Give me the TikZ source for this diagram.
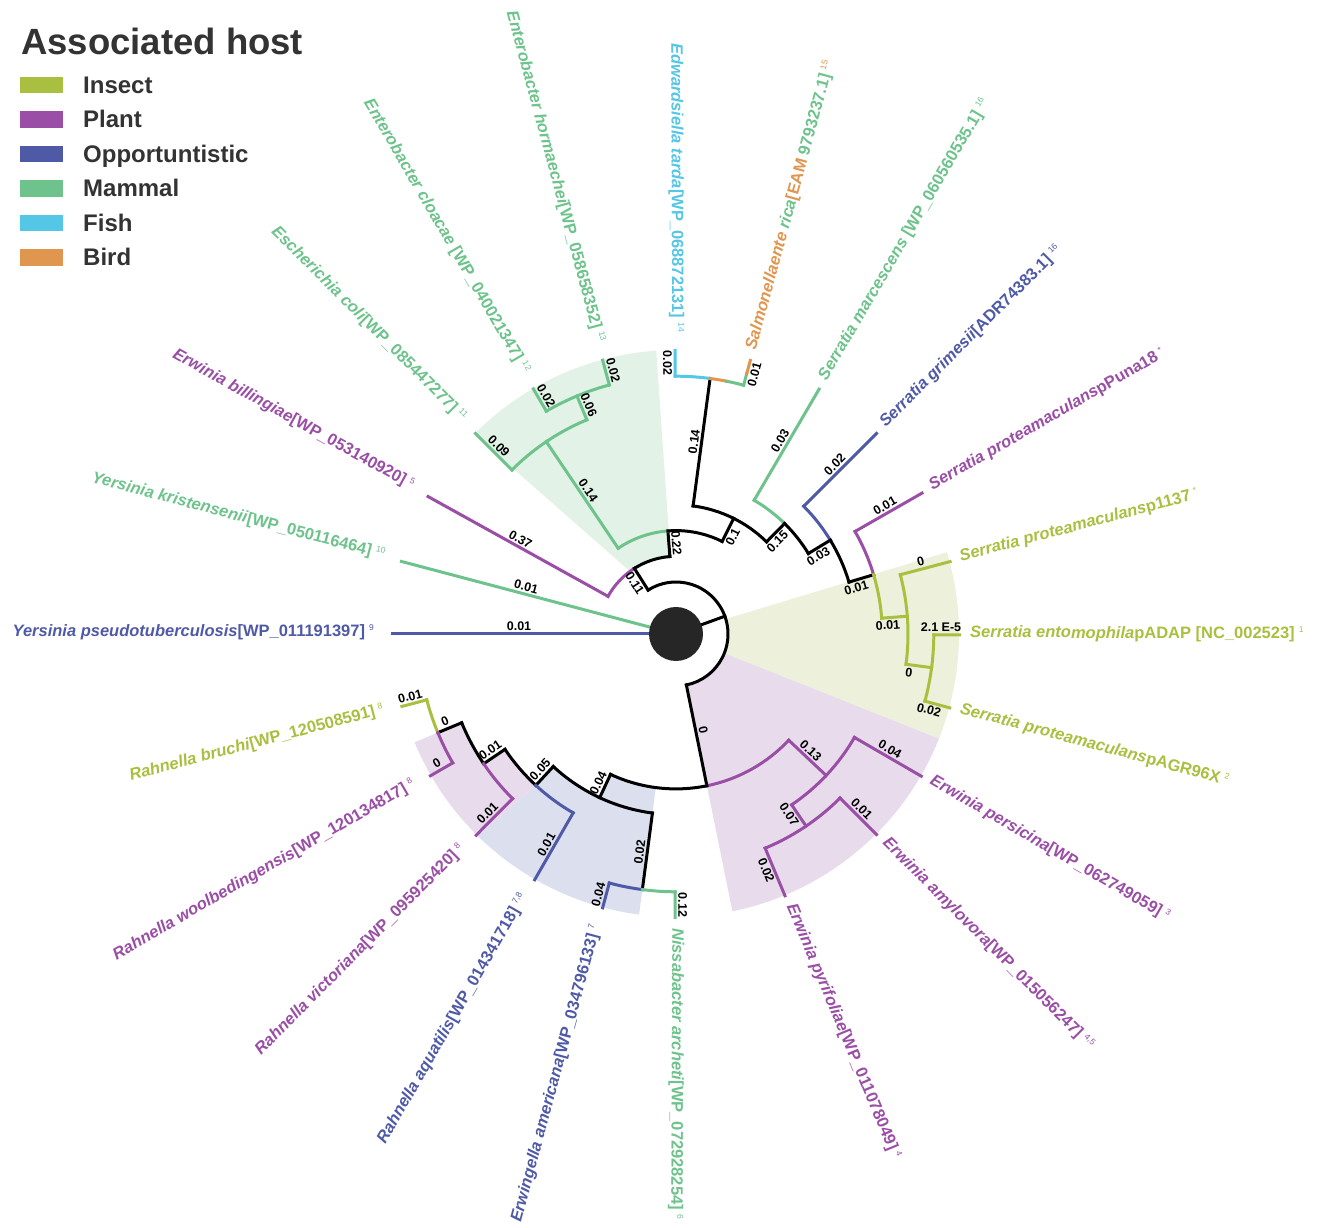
\documentclass[tikz,border=0pt]{standalone}
\usepackage{fontspec}
\setmainfont{Liberation Sans}
\definecolor{cI}{HTML}{A9BF3F}
\definecolor{cP}{HTML}{9A4EA6}
\definecolor{cO}{HTML}{4F5AA7}
\definecolor{cM}{HTML}{6DC38B}
\definecolor{cF}{HTML}{54C6E6}
\definecolor{cB}{HTML}{E0964F}
\definecolor{sM}{HTML}{E3F2E6}
\definecolor{sI}{HTML}{EDF0DB}
\definecolor{sP}{HTML}{E8DCEC}
\definecolor{sO}{HTML}{DCDFEE}
\definecolor{disc}{HTML}{262626}
\definecolor{legtxt}{HTML}{333333}
\newcommand\sups[1]{\hspace{4pt}\raisebox{6pt}{\fontsize{8.5}{8.5}\selectfont\mdseries #1}}
\newcounter{bn}
\newcommand\bl[5]{\stepcounter{bn}\node[blab,rotate=#3,anchor=#4] (bl\thebn) at (#1:#2pt) {#5};}
\newcommand\rb[4]{\draw[br,#1] (#2:#3pt) -- (#2:#4pt);}
\newcommand\ab[4]{\draw[br,#1] (#2:#4pt) arc[start angle=#2,end angle=#3,radius=#4pt];}
\newcommand\tipR[4]{\node[tiplab,text=#1,rotate=#2,anchor=mid west] (#3) at (#2:294pt) {#4};}
\newcommand\tipL[5]{\node[tiplab,text=#1,rotate=#3,anchor=mid east] (#4) at (#2:302pt) {#5};}
\begin{document}
\begin{tikzpicture}[x=1pt,y=1pt,
  br/.style={line width=3pt,line cap=rect},
  blab/.style={font=\fontsize{12.5}{12.5}\selectfont\bfseries,inner sep=2.9pt,text=black},
  tiplab/.style={font=\fontsize{16.5}{16.5}\selectfont\bfseries,inner sep=0pt},
  legtext/.style={anchor=base west,font=\fontsize{24}{24}\selectfont\bfseries,inner sep=0pt,text=legtxt}]
\useasboundingbox (0,0) rectangle (1322,1227);
\fill[white] (0,0) rectangle (1322,1227);
% ---------- legend ----------
\node[anchor=base west,font=\fontsize{36.5}{36.5}\selectfont\bfseries,inner sep=0pt,text=legtxt] (title) at (21,1172) {Associated host};
\fill[cI] (20,1133.5) rectangle (63,1150.2); \node[legtext] (lgI) at (83,1133.5) {Insect};
\fill[cP] (20,1099) rectangle (63,1115.7);   \node[legtext] (lgP) at (83,1099) {Plant};
\fill[cO] (20,1064.5) rectangle (63,1081.2); \node[legtext] (lgO) at (83,1064.5) {Opportuntistic};
\fill[cM] (20,1030) rectangle (63,1046.7);   \node[legtext] (lgM) at (83,1030) {Mammal};
\fill[cF] (20,995.5) rectangle (63,1012.2);  \node[legtext] (lgF) at (83,995.5) {Fish};
\fill[cB] (20,961) rectangle (63,977.7);     \node[legtext] (lgB) at (83,961) {Bird};
\begin{scope}[shift={(676,593)}]
% ---------- shaded clades ----------
\fill[sM] (94:77.7pt) -- (94:284pt) arc[start angle=94,end angle=135.3,radius=284pt] -- (126:76pt) arc[start angle=126,end angle=94,radius=77.7pt] -- cycle;
\fill[sI] (-21.7:52pt) -- (-21.7:283pt) arc[start angle=-21.7,end angle=16.8,radius=283pt] -- (16.8:52pt) arc[start angle=16.8,end angle=-21.7,radius=52pt] -- cycle;
\fill[sP] (-78.5:52pt) -- (-78.5:283pt) arc[start angle=-78.5,end angle=-21.7,radius=283pt] -- (-21.7:52pt) arc[start angle=-21.7,end angle=-78.5,radius=52pt] -- cycle;
\fill[sO] (-97.5:154.9pt) -- (-97.5:283pt) arc[start angle=-97.5,end angle=-134.5,radius=283pt] -- (-132.8:206.3pt) -- (-132.8:180.6pt) arc[start angle=-132.8,end angle=-115,radius=180.6pt] -- (-115:154.9pt) arc[start angle=-115,end angle=-97.5,radius=154.9pt] -- cycle;
\fill[sP] (-132.8:206.3pt) -- (-134.5:283pt) arc[start angle=-134.5,end angle=-157.5,radius=283pt] -- (-157.5:257.8pt) -- (-157.5:232pt) arc[start angle=-157.5,end angle=-146,radius=232pt] -- (-146:206.3pt) arc[start angle=-146,end angle=-132.8,radius=206.3pt] -- cycle;
% ---------- branches ----------
\rb{cO}{180}{20}{284}
\rb{cM}{165.2}{20}{284}
\rb{black}{20}{20}{52}
\ab{black}{122.4}{-78.5}{52}
% upper part
\rb{black}{122.4}{52}{77.7}
\ab{cP}{151}{122.4}{77.7}
\ab{black}{122.4}{94.5}{77.7}
\rb{cP}{151}{77.7}{283.5}
\rb{black}{94.5}{77.7}{103.4}
\ab{cM}{124}{94.5}{103.4}
\ab{black}{94.5}{63.5}{103.4}
\rb{cM}{124}{103.4}{232}
\ab{cM}{135}{112.6}{232}
\rb{cM}{135}{232}{283.5}
\rb{cM}{112.6}{232}{257.8}
\ab{cM}{120.2}{105}{257.8}
\rb{cM}{120.2}{257.8}{283.5}
\rb{cM}{105}{257.8}{283.5}
\rb{black}{63.5}{103.4}{129.2}
\ab{black}{82.4}{45.5}{129.2}
\rb{black}{82.4}{129.2}{257.8}
\ab{cF}{90.2}{82.4}{257.8}
\ab{cB}{82.4}{78.6}{257.8}
\ab{cM}{78.6}{74.8}{257.8}
\rb{cF}{90.2}{257.8}{283.5}
\rb{cM}{74.8}{257.8}{270}
\rb{cB}{74.8}{270}{283.5}
\rb{black}{45.5}{129.2}{154.9}
\ab{cM}{59.7}{45.5}{154.9}
\ab{black}{45.5}{31.3}{154.9}
\rb{cM}{59.7}{154.9}{283.5}
\rb{black}{31.3}{154.9}{180.6}
\ab{cO}{45}{31.3}{180.6}
\ab{black}{31.3}{16.7}{180.6}
\rb{cO}{45}{180.6}{283.5}
\rb{black}{16.7}{180.6}{206.3}
\ab{cP}{29.8}{16.7}{206.3}
\ab{cI}{16.7}{4.4}{206.3}
\rb{cP}{29.8}{206.3}{283.5}
\rb{cI}{4.4}{206.3}{232}
\ab{cI}{14.8}{-7.5}{232}
\rb{cI}{14.8}{232}{283.5}
\rb{cI}{-7.5}{232}{257.8}
\ab{cI}{-0.2}{-15.1}{257.8}
\rb{cI}{-0.2}{257.8}{283.5}
\rb{cI}{-15.1}{257.8}{283.5}
% lower part
\rb{black}{-78.5}{52}{154.9}
\ab{cP}{-43.3}{-78.5}{154.9}
\ab{black}{-78.5}{-115}{154.9}
\rb{cP}{-43.3}{154.9}{206.3}
\ab{cP}{-30.1}{-55.9}{206.3}
\rb{cP}{-30.1}{206.3}{283.5}
\rb{cP}{-55.9}{206.3}{232}
\ab{cP}{-45}{-67.4}{232}
\rb{cP}{-45}{232}{283.5}
\rb{cP}{-67.4}{232}{283.5}
\rb{black}{-115}{154.9}{180.6}
\ab{black}{-97.5}{-132.8}{180.6}
\rb{black}{-97.5}{180.6}{257.8}
\ab{cO}{-105}{-97.5}{257.8}
\ab{cM}{-97.5}{-90.2}{257.8}
\rb{cO}{-105}{257.8}{283.5}
\rb{cM}{-90.2}{257.8}{283.5}
\rb{black}{-132.8}{180.6}{206.3}
\ab{black}{-146}{-132.8}{206.3}
\ab{cO}{-132.8}{-119.9}{206.3}
\rb{cO}{-119.9}{206.3}{283.5}
\rb{black}{-146}{206.3}{232}
\ab{black}{-157.5}{-146}{232}
\ab{cP}{-146}{-134.8}{232}
\rb{cP}{-134.8}{232}{283.5}
\rb{black}{-157.5}{232}{257.8}
\ab{cI}{-165.2}{-157.5}{257.8}
\ab{cP}{-157.5}{-150}{257.8}
\rb{cP}{-150}{257.8}{283.5}
\rb{cI}{-165.2}{257.8}{283.5}
% root disc
\fill[disc] (0,0) circle[radius=27pt];
% ---------- branch length labels ----------
\bl{180}{157}{0}{south}{0.01}
\bl{165.2}{157}{-14.8}{south}{0.01}
\bl{151}{182}{-29}{south}{0.37}
\bl{122.4}{65}{-57.6}{north}{0.11}
\bl{94.5}{90.5}{-85.5}{south}{0.22}
\bl{124}{168}{-56}{south}{0.14}
\bl{135}{258}{-45}{south}{0.09}
\bl{112.6}{245}{-67.4}{south}{0.06}
\bl{120.2}{271}{-59.8}{south}{0.02}
\bl{105}{271}{-75}{south}{0.02}
\bl{63.5}{112}{63.5}{north}{0.1}
\bl{82.4}{193}{82.4}{south}{0.14}
\bl{90.2}{271}{-89.8}{north}{0.02}
\bl{74.8}{271}{74.8}{north}{0.01}
\bl{59.7}{219}{59.7}{south}{0.03}
\bl{45.5}{137}{45.5}{north}{0.15}
\bl{45}{232}{45}{south}{0.02}
\bl{31.3}{162}{31.3}{north}{0.03}
\bl{29.8}{245}{29.8}{south}{0.01}
\bl{16.7}{186}{16.7}{north}{0.01}
\bl{4.4}{212}{4.4}{north}{0.01}
\bl{14.8}{255}{14.8}{south}{0}
\bl{-7.5}{236}{-7.5}{north}{0}
\bl{-0.2}{265}{-0.2}{south}{2.1 E-5}
\bl{-15.1}{264}{-15.1}{north}{0.02}
\bl{-78.5}{100}{-78.5}{south}{0}
\bl{-43.3}{178}{-43.3}{south}{0.13}
\bl{-30.1}{243}{-30.1}{south}{0.04}
\bl{-55.9}{213}{-55.9}{north}{0.07}
\bl{-45}{255}{-45}{south}{0.01}
\bl{-67.4}{253}{-67.4}{north}{0.02}
\bl{-115}{168}{65}{south}{0.04}
\bl{-97.5}{221}{82.5}{south}{0.02}
\bl{-105}{272}{75}{south}{0.04}
\bl{-90.2}{271}{-90.2}{south}{0.12}
\bl{-132.8}{192}{47.2}{south}{0.05}
\bl{-119.9}{247}{60.1}{south}{0.01}
\bl{-146}{219}{34}{south}{0.01}
\bl{-134.8}{260}{45.2}{south}{0.01}
\bl{-157.5}{247}{22.5}{south}{0}
\bl{-150}{272}{30}{south}{0}
\bl{-165.2}{273}{14.8}{south}{0.01}
% ---------- tip labels ----------
\tipR{cB}{74.8}{tSal}{\textit{Salmonellaente} {\color{cM}\textit{rica}}[EAM {\color{cM}9793237.1]}\sups{15}}
\tipR{cM}{59.7}{tMar}{\textit{Serratia marcescens} [WP\_060560535.1]\sups{16}}
\tipR{cO}{45}{tGri}{\textit{Serratia grimesii}[ADR74383.1]\sups{16}}
\tipR{cP}{29.8}{tPun}{\textit{Serratia proteamaculans}pPuna18\sups{*}}
\tipR{cI}{14.8}{tPii}{\textit{Serratia proteamaculans}p1137\sups{*}}
\tipR{cI}{-0.2}{tEnt}{\textit{Serratia entomophila}pADAP [NC\_002523]\sups{1}}
\tipR{cI}{-15.1}{tAGR}{\textit{Serratia proteamaculans}pAGR96X\sups{2}}
\tipR{cP}{-30.1}{tPer}{\textit{Erwinia persicina}[WP\_062749059]\sups{3}}
\tipR{cP}{-45}{tAmy}{\textit{Erwinia amylovora}[WP\_015056247]\sups{4,5}}
\tipR{cP}{-67.4}{tPyr}{\textit{Erwinia pyrifoliae}[WP\_011078049]\sups{4}}
\tipR{cM}{-90.2}{tNis}{\textit{Nissabacter archeti}[WP\_072928254]\sups{6}}
\tipL{cF}{90.2}{-89.8}{tEdw}{\textit{Edwardsiella tarda}[WP\_068872131]\sups{14}}
\tipL{cM}{105}{-75}{tHor}{\textit{Enterobacter hormaechei}[WP\_058658352]\sups{13}}
\tipL{cM}{120.2}{-59.8}{tClo}{\textit{Enterobacter cloacae} [WP\_040021347]\sups{12}}
\tipL{cM}{135}{-45}{tCol}{\textit{Escherichia coli}[WP\_085447277]\sups{11}}
\tipL{cP}{151}{-29}{tBil}{\textit{Erwinia billingiae}[WP\_053140920]\sups{5}}
\tipL{cM}{165.2}{-14.8}{tKri}{\textit{Yersinia kristensenii}[WP\_050116464]\sups{10}}
\tipL{cO}{180}{0}{tPse}{\textit{Yersinia pseudotuberculosis}[WP\_011191397]\sups{9}}
\tipL{cI}{-165.2}{14.8}{tBru}{\textit{Rahnella bruchi}[WP\_120508591]\sups{8}}
\tipL{cP}{-150}{30}{tWoo}{\textit{Rahnella woolbedingensis}[WP\_120134817]\sups{8}}
\tipL{cP}{-134.8}{45.2}{tVic}{\textit{Rahnella victoriana}[WP\_095925420]\sups{8}}
\tipL{cO}{-119.9}{60.1}{tAqu}{\textit{Rahnella aquatilis}[WP\_014341718]\sups{7,8}}
\tipL{cO}{-105}{75}{tAme}{\textit{Erwingella americana}[WP\_034796133]\sups{7}}
\end{scope}
\end{tikzpicture}
\end{document}
